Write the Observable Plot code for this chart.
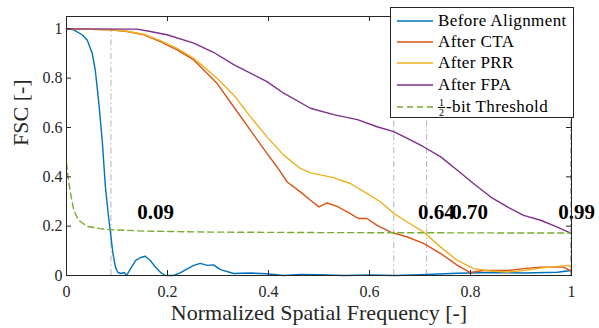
<!DOCTYPE html>
<html><head><meta charset="utf-8">
<script src="https://cdn.jsdelivr.net/npm/d3@7"></script>
<script src="https://cdn.jsdelivr.net/npm/@observablehq/plot@0.6"></script>
<style>
body{margin:0;background:#fff;}
#wrap{position:relative;width:599px;height:328px;font-family:"Liberation Serif",serif;color:#262626;}
#wrap svg text{font-family:"Liberation Serif",serif;}
#legend{position:absolute;left:390px;top:7px;width:182px;height:109px;border:1px solid #262626;background:#fff;box-sizing:content-box;}
.row{position:absolute;left:0;height:20px;display:flex;align-items:center;white-space:nowrap;font-size:17px;letter-spacing:0.4px;color:#000;}
.row svg{margin-left:6px;margin-right:5px;}
.frac{display:inline-flex;flex-direction:column;align-items:center;font-size:10px;line-height:9px;margin-right:1px;letter-spacing:0;}
.frac .n{border-bottom:1px solid #000;padding:0 1px;}
</style>
</head><body>
<div id="wrap"></div>
<script>
// ---- data ----
const seriesNames = ["Before Alignment", "After CTA", "After PRR", "After FPA", "bit Threshold"];
const seriesColors = ["#0072BD", "#D95319", "#EDB120", "#7E2F8E", "#77AC30"];

const beforeAlignment = [[0,1.0],[0.014,0.996],[0.031,0.976],[0.041,0.955],[0.051,0.90],[0.057,0.833],[0.064,0.70],[0.071,0.54],[0.077,0.36],[0.084,0.224],[0.087,0.175],[0.092,0.089],[0.097,0.033],[0.102,0.012],[0.108,0.008],[0.114,0.012],[0.119,0.0],[0.127,0.028],[0.137,0.061],[0.147,0.073],[0.156,0.078],[0.166,0.061],[0.176,0.034],[0.186,0.013],[0.196,0.0],[0.212,0.0],[0.226,0.012],[0.239,0.027],[0.252,0.041],[0.265,0.049],[0.279,0.041],[0.291,0.043],[0.305,0.024],[0.331,0.008],[0.364,0.01],[0.397,0.007],[0.43,0.0],[0.463,0.004],[0.5,0.003],[0.55,0.0],[0.6,0.002],[0.65,0.0],[0.7,0.003],[0.774,0.009],[0.84,0.012],[0.905,0.01],[0.972,0.013],[1.0,0.02]];

const afterCTA = [[0,1.0],[0.05,0.998],[0.087,0.996],[0.12,0.989],[0.153,0.976],[0.186,0.948],[0.219,0.915],[0.252,0.874],[0.265,0.847],[0.298,0.779],[0.331,0.684],[0.364,0.589],[0.397,0.495],[0.417,0.44],[0.437,0.379],[0.463,0.339],[0.483,0.305],[0.5,0.278],[0.516,0.294],[0.536,0.28],[0.562,0.251],[0.578,0.231],[0.595,0.231],[0.615,0.203],[0.642,0.176],[0.675,0.156],[0.707,0.13],[0.741,0.089],[0.774,0.041],[0.8,0.012],[0.826,0.02],[0.873,0.02],[0.905,0.028],[0.939,0.034],[0.984,0.034],[1.0,0.018]];

const afterPRR = [[0,1.0],[0.05,0.998],[0.087,0.996],[0.12,0.99],[0.153,0.978],[0.186,0.952],[0.219,0.921],[0.252,0.88],[0.265,0.858],[0.298,0.8],[0.331,0.732],[0.364,0.644],[0.397,0.562],[0.43,0.488],[0.463,0.434],[0.483,0.416],[0.529,0.397],[0.543,0.386],[0.562,0.373],[0.595,0.333],[0.622,0.298],[0.648,0.252],[0.675,0.217],[0.707,0.176],[0.741,0.115],[0.774,0.061],[0.806,0.028],[0.84,0.018],[0.873,0.014],[0.905,0.02],[0.939,0.03],[0.972,0.037],[0.994,0.041],[1.0,0.03]];

const afterFPA = [[0,1.0],[0.14,0.999],[0.166,0.989],[0.199,0.976],[0.252,0.942],[0.291,0.905],[0.331,0.855],[0.397,0.786],[0.43,0.739],[0.483,0.678],[0.529,0.652],[0.576,0.632],[0.615,0.603],[0.648,0.583],[0.675,0.556],[0.707,0.522],[0.741,0.481],[0.774,0.427],[0.806,0.373],[0.84,0.318],[0.873,0.278],[0.905,0.244],[0.939,0.224],[0.972,0.196],[0.994,0.176],[1.0,0.17]];

const halfBitThreshold = [[0,0.455],[0.003,0.4],[0.008,0.332],[0.0145,0.264],[0.024,0.224],[0.041,0.199],[0.067,0.19],[0.087,0.186],[0.153,0.18],[0.285,0.176],[0.5,0.174],[0.75,0.173],[1.0,0.172]];

const resolutionX = [0.088, 0.648, 0.713, 0.998];
const resolutionLabels = ["0.09", "0.64", "0.70", "0.99"];
const resolutionLabelX = [0.14, 0.696, 0.762, 0.974];
const resolutionLabelY = 0.255;

const xTicks = [0, 0.2, 0.4, 0.6, 0.8, 1];
const yTicks = [0, 0.2, 0.4, 0.6, 0.8, 1];
const xLabel = "Normalized Spatial Frequency [-]";
const yLabel = "FSC [-]";

// ---- layout ----
const FONT = "Liberation Serif";
const W = 599, H = 328, mL = 66, mR = 28, mT = 16, mB = 53;
const fW = W - mL - mR, fH = H - mT - mB;
const curves = [beforeAlignment, afterCTA, afterPRR, afterFPA];
const labelTable = resolutionLabels.map((t, i) => ({t, x: resolutionLabelX[i], y: resolutionLabelY}));

const plot = Plot.plot({
  width: W, height: H,
  marginLeft: mL, marginRight: mR, marginTop: mT, marginBottom: mB,
  x: {domain: [0, 1]},
  y: {domain: [0, 1.05]},
  style: {fontFamily: FONT, fontSize: "16px", color: "#262626", background: "#fff", overflow: "visible"},
  marks: [
    Plot.ruleX(resolutionX, {x: d => d, y1: 0, y2: 1, stroke: "#b5b5b5", strokeWidth: 1, strokeDasharray: "6,3,1.5,3"}),
    ...curves.map((c, i) => Plot.line(c, {x: d => d[0], y: d => d[1], stroke: seriesColors[i], strokeWidth: 1.4})),
    Plot.line(halfBitThreshold, {x: d => d[0], y: d => d[1], stroke: seriesColors[4], strokeWidth: 1.4, strokeDasharray: "6,4"}),
    Plot.text(labelTable, {x: "x", y: "y", text: "t", textAnchor: "start", fontWeight: "bold", fontSize: 21, fontFamily: FONT, fill: "#000", ariaLabel: "reslabel"}),
    Plot.frame({stroke: "#262626", strokeWidth: 1}),
    Plot.ruleX(xTicks, {x: d => d, insetTop: fH - 5, stroke: "#262626"}),
    Plot.ruleX(xTicks, {x: d => d, insetBottom: fH - 5, stroke: "#262626"}),
    Plot.ruleY(yTicks, {y: d => d, insetRight: fW - 5, stroke: "#262626"}),
    Plot.ruleY(yTicks, {y: d => d, insetLeft: fW - 5, stroke: "#262626"}),
    Plot.axisX({ticks: xTicks, tickSize: 0, tickPadding: 10, tickFormat: d => String(d), label: null, fontSize: 16, fontFamily: FONT}),
    Plot.axisY({ticks: yTicks, tickSize: 0, tickPadding: 4, tickFormat: d => String(d), label: null, fontSize: 16, fontFamily: FONT}),
    Plot.text([xLabel], {text: d => d, frameAnchor: "bottom", dy: 44, fontSize: 22, fontFamily: FONT, fill: "#262626", ariaLabel: "xlabel"}),
    Plot.text([yLabel], {text: d => d, frameAnchor: "left", dx: -46, rotate: -90, fontSize: 22, fontFamily: FONT, fill: "#262626", ariaLabel: "ylabel"})
  ]
});
d3.select(plot).style("font-family", '"Liberation Serif", serif');
d3.select(plot).selectAll('g[aria-label="reslabel"] text').style("letter-spacing", "1.8px");
d3.select(plot).selectAll('g[aria-label="xlabel"] text').style("letter-spacing", "0.4px");
d3.select(plot).selectAll('g[aria-label="ylabel"] text').style("letter-spacing", "0.4px");

const wrap = document.getElementById("wrap");
wrap.appendChild(plot);

// ---- legend ----
const legend = document.createElement("div");
legend.id = "legend";
seriesNames.forEach((name, i) => {
  const row = document.createElement("div");
  row.className = "row";
  const center = i < 4 ? 13 + i * 21.2 : 99;
  row.style.top = (center - 10) + "px";
  const dash = i === 4 ? ' stroke-dasharray="6,4"' : "";
  row.innerHTML = `<svg width="36" height="4"><line x1="0" y1="2" x2="36" y2="2" stroke="${seriesColors[i]}" stroke-width="1.4"${dash}/></svg>` +
    (i === 4 ? `<span class="frac"><span class="n">1</span><span>2</span></span>-${name}` : name);
  legend.appendChild(row);
});
wrap.appendChild(legend);
</script>
</body></html>
